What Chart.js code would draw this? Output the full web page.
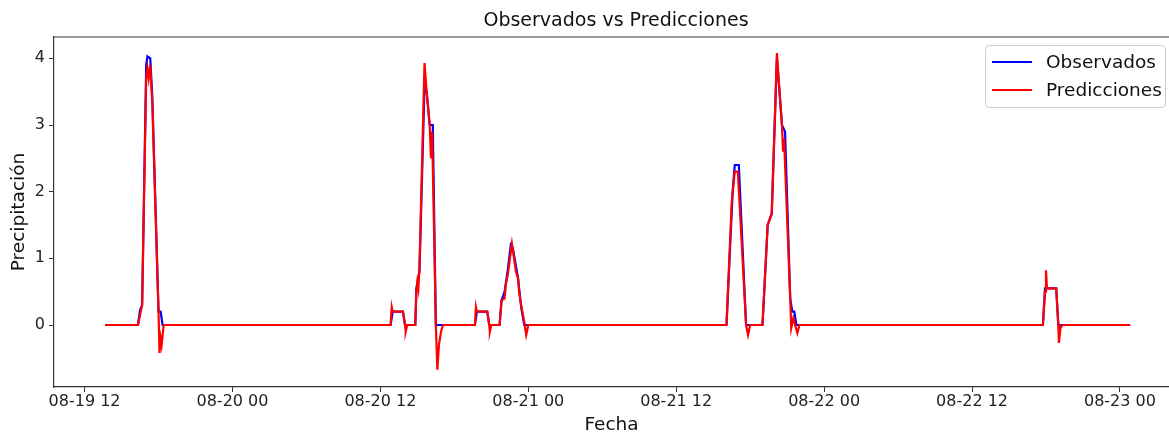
<!DOCTYPE html>
<html>
<head>
<meta charset="utf-8">
<script src="https://cdn.jsdelivr.net/npm/chart.js@4/dist/chart.umd.min.js"></script>
<style>
  html, body { margin: 0; padding: 0; background: #fff; }
  #wrap { width: 1169px; height: 433px; }
</style>
</head>
<body>
<div id="wrap"><canvas id="grafico"></canvas></div>
<script>
// horas desde 08-19 00:00
const horasObs = [13.67, 16.33, 16.5, 16.67, 17.0, 17.1, 17.33, 17.5, 18.0, 18.17, 18.33,
  36.83, 37.0, 37.83, 38.0, 38.83, 38.92, 39.17, 39.58, 39.75, 40.0, 40.25, 40.5,
  43.67, 43.83, 44.67, 44.83, 45.67, 45.83, 46.08, 46.33, 46.58, 46.75, 47.17, 47.42, 47.67,
  64.08, 64.58, 64.75, 65.08, 65.67, 67.0, 67.42, 67.75, 68.17, 68.42, 68.58, 68.83, 69.25, 69.42, 69.58, 69.75,
  89.75, 89.92, 90.83, 91.0, 96.83]
const valoresObs = [0, 0, 0.22, 0.3, 3.9, 4.03, 4.0, 3.4, 0.2, 0.2, 0,
  0, 0.2, 0.2, 0, 0, 0.55, 0.8, 3.6, 3.5, 3.0, 3.0, 0,
  0, 0.2, 0.2, 0, 0, 0.37, 0.5, 0.82, 1.2, 1.15, 0.7, 0.27, 0,
  0, 2.0, 2.4, 2.4, 0, 0, 1.5, 1.67, 4.0, 3.4, 3.0, 2.9, 0.4, 0.2, 0.2, 0,
  0, 0.55, 0.55, 0, 0]

const horasPred = [13.67, 16.33, 16.5, 16.67, 17.0, 17.1, 17.2, 17.33, 17.5, 18.0, 18.08, 18.17, 18.25, 18.42,
  36.83, 36.92, 37.0, 37.83, 38.0, 38.05, 38.17, 38.83, 38.92, 39.0, 39.08, 39.17, 39.58, 39.75, 40.0, 40.1, 40.2, 40.5, 40.62, 40.75, 40.92, 41.08,
  43.67, 43.75, 43.83, 44.67, 44.83, 44.88, 45.0, 45.67, 45.83, 46.08, 46.17, 46.33, 46.67, 47.0, 47.17, 47.25, 47.42, 47.67, 47.83, 48.0,
  64.08, 64.5, 64.75, 65.0, 65.67, 65.83, 66.0, 67.0, 67.42, 67.75, 68.17, 68.42, 68.58, 68.67, 68.75, 69.25, 69.33, 69.5, 69.83, 70.0,
  89.75, 89.92, 90.0, 90.08, 90.83, 91.0, 91.05, 91.17, 91.33, 96.83]
const valoresPred = [0, 0, 0.15, 0.3, 3.7, 3.85, 3.7, 3.9, 3.3, 0.2, -0.42, -0.2, -0.3, 0,
  0, 0.27, 0.2, 0.2, 0, -0.1, 0, 0, 0.5, 0.65, 0.55, 0.85, 3.93, 3.5, 3.0, 2.5, 2.9, 0, -0.67, -0.3, -0.1, 0,
  0, 0.27, 0.2, 0.2, 0, -0.1, 0, 0, 0.37, 0.4, 0.6, 0.75, 1.22, 0.8, 0.7, 0.5, 0.3, 0.05, -0.15, 0,
  0, 1.83, 2.3, 2.3, 0, -0.15, 0, 0, 1.5, 1.67, 4.08, 3.4, 3.0, 2.6, 2.8, 0.4, -0.05, 0.1, -0.12, 0,
  0, 0.5, 0.82, 0.55, 0.55, 0, -0.27, -0.05, 0, 0]

const ticksHoras = [12, 24, 36, 48, 60, 72, 84, 96]
const ticksEtiquetas = ['08-19 12', '08-20 00', '08-20 12', '08-21 00', '08-21 12', '08-22 00', '08-22 12', '08-23 00']
const ticksY = [0, 1, 2, 3, 4]

const fuente = 'DejaVu Sans'

const puntos = (xs, ys) => xs.map((x, i) => ({ x: x, y: ys[i] }))

// titulo, marco y leyenda al estilo matplotlib
const extras = {
  id: 'extras',
  afterDraw(chart) {
    const ctx = chart.ctx
    const area = chart.chartArea
    ctx.save()
    ctx.strokeStyle = '#333'
    ctx.lineWidth = 1.2
    ctx.beginPath()
    ctx.moveTo(area.left, area.top)
    ctx.lineTo(area.right, area.top)
    ctx.stroke()

    ctx.fillStyle = '#111'
    ctx.font = '19px ' + fuente
    ctx.textAlign = 'center'
    ctx.textBaseline = 'middle'
    ctx.fillText('Observados vs Predicciones', 616, 21)

    // leyenda
    const x0 = 985, y0 = 45, w = 180, h = 62
    ctx.fillStyle = 'rgba(255,255,255,0.8)'
    ctx.strokeStyle = '#cccccc'
    ctx.lineWidth = 1
    ctx.beginPath()
    ctx.roundRect(x0 + 0.5, y0 + 0.5, w, h, 4)
    ctx.fill()
    ctx.stroke()
    ctx.font = '18.5px ' + fuente
    ctx.textAlign = 'left'
    chart.data.datasets.forEach((ds, i) => {
      const y = 62 + i * 28
      ctx.strokeStyle = ds.borderColor
      ctx.lineWidth = 2
      ctx.beginPath()
      ctx.moveTo(992, y)
      ctx.lineTo(1032, y)
      ctx.stroke()
      ctx.fillStyle = '#111'
      ctx.fillText(ds.label, 1046, y + 1)
    })
    ctx.restore()
  }
}

new Chart(document.getElementById('grafico'), {
  type: 'line',
  data: {
    datasets: [
      {
        label: 'Observados',
        data: puntos(horasObs, valoresObs),
        borderColor: '#0000ff',
        borderWidth: 2.2,
        pointRadius: 0,
        order: 2
      },
      {
        label: 'Predicciones',
        data: puntos(horasPred, valoresPred),
        borderColor: '#ff0000',
        borderWidth: 2.2,
        pointRadius: 0,
        order: 1
      }
    ]
  },
  options: {
    responsive: true,
    maintainAspectRatio: false,
    animation: false,
    layout: { padding: { top: 37, right: 0, bottom: 0, left: 0 } },
    plugins: {
      legend: { display: false },
      tooltip: { enabled: false }
    },
    scales: {
      x: {
        type: 'linear',
        min: 9.52,
        max: 99.98,
        afterBuildTicks: (s) => { s.ticks = ticksHoras.map(v => ({ value: v })) },
        afterFit: (s) => { s.height = 46 },
        border: { display: true, color: '#333', width: 1.2 },
        grid: { display: true, drawOnChartArea: false, drawTicks: true, tickLength: 5, color: '#333' },
        ticks: {
          color: '#222',
          font: { family: fuente, size: 16 },
          padding: 0,
          maxRotation: 0,
          callback: (v) => ticksEtiquetas[ticksHoras.indexOf(v)]
        },
        title: {
          display: true,
          text: 'Fecha',
          color: '#111',
          font: { family: fuente, size: 18.5 },
          padding: { top: 0, bottom: -3 }
        }
      },
      y: {
        min: -0.93,
        max: 4.32,
        afterBuildTicks: (s) => { s.ticks = ticksY.map(v => ({ value: v })) },
        afterFit: (s) => { s.width = 54 },
        border: { display: true, color: '#333', width: 1.2 },
        grid: { display: true, drawOnChartArea: false, drawTicks: true, tickLength: 5, color: '#333' },
        ticks: {
          color: '#222',
          font: { family: fuente, size: 16 },
          padding: 4
        },
        title: {
          display: true,
          text: 'Precipitación',
          color: '#111',
          font: { family: fuente, size: 18.5 },
          padding: { top: 8, bottom: 0 }
        }
      }
    }
  },
  plugins: [extras]
})
</script>
</body>
</html>
